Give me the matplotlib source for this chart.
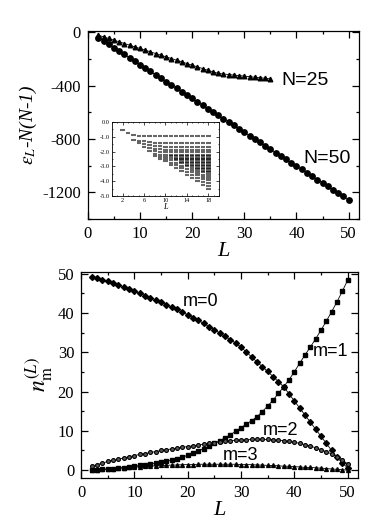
import matplotlib
matplotlib.use('Agg')
import matplotlib.pyplot as plt
from matplotlib.ticker import MultipleLocator, FormatStrFormatter
import numpy as np

plt.rcParams['axes.unicode_minus'] = False
plt.rcParams['mathtext.fontset'] = 'stix'

SERIF = 'Liberation Serif'
SANS = 'Liberation Sans'

# top panel: energies
L_n50 = list(range(2, 51))
e_n50 = [-40, -66, -91, -116, -142, -167, -192, -218, -243, -268,
         -294, -319, -344, -370, -395, -420, -445, -471, -496, -521,
         -547, -572, -597, -623, -648, -673, -698, -724, -749, -774,
         -800, -825, -850, -876, -901, -926, -951, -977, -1002, -1027,
         -1053, -1078, -1103, -1129, -1154, -1179, -1204, -1230, -1255]
L_n25 = list(range(2, 36))
e_n25 = [-22, -35, -47, -60, -72, -85, -97, -110, -122, -135,
         -147, -160, -172, -185, -197, -210, -222, -235, -247, -260,
         -272, -285, -297, -308, -313, -317, -321, -325, -329, -333,
         -337, -341, -345, -350]

# inset: spectrum levels for each L
inset_L = list(range(2, 19))
inset_levels = [
    [-0.52],
    [-0.74],
    [-0.86, -1.2],
    [-0.92, -1.26, -1.45],
    [-0.97, -1.3, -1.5, -1.7],
    [-0.97, -1.35, -1.55, -1.75, -1.95],
    [-0.97, -1.4, -1.6, -1.8, -1.95, -2.15, -2.3],
    [-0.97, -1.4, -1.65, -1.85, -2.0, -2.2, -2.35, -2.5],
    [-0.97, -1.42, -1.7, -1.9, -2.05, -2.2, -2.35, -2.5, -2.65],
    [-0.97, -1.42, -1.7, -1.9, -2.05, -2.2, -2.3, -2.45, -2.6, -2.75, -2.9],
    [-0.97, -1.42, -1.7, -1.9, -2.05, -2.2, -2.3, -2.4, -2.5, -2.6, -2.75, -2.9, -3.1],
    [-0.97, -1.42, -1.7, -1.9, -2.05, -2.2, -2.3, -2.4, -2.5, -2.6, -2.7, -2.8, -2.95, -3.1, -3.3],
    [-0.97, -1.42, -1.7, -1.9, -2.05, -2.2, -2.3, -2.4, -2.5, -2.6, -2.7, -2.8, -2.9, -3.0, -3.15, -3.35, -3.55],
    [-0.97, -1.42, -1.7, -1.9, -2.05, -2.2, -2.3, -2.4, -2.5, -2.6, -2.7, -2.8, -2.9, -3.0, -3.1, -3.25, -3.4, -3.55, -3.75],
    [-0.97, -1.42, -1.7, -1.9, -2.05, -2.2, -2.3, -2.4, -2.5, -2.6, -2.7, -2.8, -2.9, -3.0, -3.1, -3.2, -3.3, -3.45, -3.6, -3.8, -4.0],
    [-0.97, -1.42, -1.7, -1.9, -2.05, -2.2, -2.3, -2.4, -2.5, -2.6, -2.7, -2.8, -2.9, -3.0, -3.1, -3.2, -3.3, -3.4, -3.55, -3.7, -3.85, -4.05, -4.25],
    [-0.97, -1.42, -1.7, -1.9, -2.05, -2.2, -2.3, -2.4, -2.5, -2.6, -2.7, -2.8, -2.9, -3.0, -3.1, -3.2, -3.3, -3.4, -3.5, -3.65, -3.8, -3.95, -4.1, -4.3, -4.5],
]

# bottom panel: occupation numbers
L_occ = list(range(2, 51))
n_m0 = [49.2, 48.8, 48.4, 48.0, 47.6, 47.1, 46.6, 46.1, 45.5, 45.0,
        44.4, 43.9, 43.3, 42.7, 42.1, 41.5, 40.9, 40.2, 39.5, 38.8,
        38.1, 37.3, 36.5, 35.7, 34.9, 34.0, 33.2, 32.3, 31.3, 30.0,
        28.8, 27.5, 26.3, 25.1, 23.8, 22.5, 21.2, 19.4, 17.6, 15.8,
        14.0, 12.2, 10.4, 8.6, 6.8, 5.0, 3.3, 1.8, 0.6]
n_m1 = [0.0, 0.1, 0.2, 0.3, 0.4, 0.5, 0.6, 0.8, 1.0, 1.2,
        1.4, 1.6, 1.8, 2.0, 2.3, 2.6, 2.9, 3.3, 3.8, 4.3,
        4.9, 5.5, 6.1, 6.8, 7.5, 8.2, 9.0, 9.9, 10.8, 11.7,
        12.6, 13.6, 14.9, 16.3, 17.8, 19.5, 21.2, 23.0, 25.0, 27.2,
        29.3, 31.3, 33.4, 35.6, 37.9, 40.3, 42.8, 45.5, 48.3]
n_m2 = [1.0, 1.4, 1.8, 2.2, 2.5, 2.8, 3.1, 3.4, 3.7, 4.0,
        4.2, 4.5, 4.7, 5.0, 5.2, 5.4, 5.6, 5.8, 6.0, 6.2,
        6.4, 6.6, 6.8, 7.0, 7.2, 7.3, 7.5, 7.6, 7.7, 7.7,
        7.8, 7.8, 7.8, 7.8, 7.7, 7.6, 7.5, 7.3, 7.1, 6.8,
        6.5, 6.1, 5.7, 5.2, 4.7, 4.1, 3.4, 2.6, 1.6]
n_m3 = [0.0, 0.1, 0.2, 0.3, 0.4, 0.5, 0.6, 0.7, 0.8, 0.9,
        1.0, 1.0, 1.1, 1.2, 1.2, 1.3, 1.3, 1.4, 1.4, 1.4,
        1.5, 1.5, 1.5, 1.5, 1.5, 1.5, 1.5, 1.5, 1.4, 1.4,
        1.4, 1.3, 1.3, 1.2, 1.2, 1.1, 1.0, 1.0, 0.9, 0.8,
        0.7, 0.7, 0.6, 0.5, 0.4, 0.3, 0.2, 0.1, 0.0]


def style_axes(ax, size, major_len=5, minor_len=2.5, pad=5):
    ax.tick_params(which='both', direction='in', top=True, right=True,
                   labelsize=size, pad=pad, width=0.9)
    ax.tick_params(which='major', length=major_len)
    ax.tick_params(which='minor', length=minor_len)
    for s in ax.spines.values():
        s.set_linewidth(0.9)
    for lab in ax.get_xticklabels() + ax.get_yticklabels():
        lab.set_fontfamily(SERIF)


fig = plt.figure(figsize=(3.74, 5.32), dpi=100)

# ---- top panel
ax1 = fig.add_axes([0.235, 0.588, 0.725, 0.354])
ax1.plot(L_n50, e_n50, color='k', lw=0.6, marker='o', ms=3.9, mec='k', mfc='k')
ax1.plot(L_n25, e_n25, color='k', lw=0.6, marker='^', ms=3.3, mec='k', mfc='k')
ax1.set_xlim(0, 52)
ax1.set_ylim(-1400, 10)
ax1.xaxis.set_major_locator(MultipleLocator(10))
ax1.xaxis.set_minor_locator(MultipleLocator(5))
ax1.yaxis.set_major_locator(MultipleLocator(400))
ax1.yaxis.set_minor_locator(MultipleLocator(200))
style_axes(ax1, 12)
ax1.set_xlabel('L', family=SERIF, style='italic', fontsize=16, labelpad=0)
ax1.set_ylabel(r'$\epsilon_L$-N(N-1)', family=SERIF, style='italic', fontsize=14, labelpad=2)
ax1.text(37.2, -360, 'N=25', family=SANS, fontsize=14, va='center')
ax1.text(41.3, -945, 'N=50', family=SANS, fontsize=14, va='center')

# ---- inset
axin = fig.add_axes([0.2995, 0.6316, 0.286, 0.139])
for L, levels in zip(inset_L, inset_levels):
    axin.hlines(levels, L - 0.42, L + 0.42, colors='k', linewidth=1.5, alpha=0.6)
axin.set_xlim(0, 20)
axin.set_ylim(-5, 0)
axin.set_xticks([2, 6, 10, 14, 18])
axin.xaxis.set_minor_locator(MultipleLocator(1))
axin.yaxis.set_major_locator(MultipleLocator(1))
axin.yaxis.set_minor_locator(MultipleLocator(0.5))
axin.yaxis.set_major_formatter(FormatStrFormatter('%.1f'))
axin.tick_params(which='both', direction='in', top=True, right=True,
                 labelsize=4.5, pad=1.5, width=0.5)
axin.tick_params(which='major', length=2)
axin.tick_params(which='minor', length=1)
for s in axin.spines.values():
    s.set_linewidth(0.6)
for lab in axin.get_xticklabels() + axin.get_yticklabels():
    lab.set_fontfamily(SERIF)
axin.set_xlabel('L', family=SERIF, style='italic', fontsize=6, labelpad=0)

# ---- bottom panel
ax2 = fig.add_axes([0.217, 0.1015, 0.741, 0.388])
ax2.plot(L_occ, n_m0, color='k', lw=0.6, marker='D', ms=3.0, mec='k', mfc='k')
ax2.plot(L_occ, n_m1, color='k', lw=0.6, marker='s', ms=3.2, mec='k', mfc='k')
ax2.plot(L_occ, n_m2, color='k', lw=0.6, marker='o', ms=2.8, mec='k', mfc='0.35', mew=0.8)
ax2.plot(L_occ, n_m3, color='k', lw=0.6, marker='^', ms=2.8, mec='k', mfc='k')
ax2.set_xlim(0, 52)
ax2.set_ylim(-2, 50.5)
ax2.xaxis.set_major_locator(MultipleLocator(10))
ax2.xaxis.set_minor_locator(MultipleLocator(5))
ax2.yaxis.set_major_locator(MultipleLocator(10))
ax2.yaxis.set_minor_locator(MultipleLocator(5))
style_axes(ax2, 12)
ax2.set_xlabel('L', family=SERIF, style='italic', fontsize=16, labelpad=0)
ax2.set_ylabel(r'$n_{\mathrm{m}}^{(L)}$', fontsize=17, labelpad=2)
ax2.text(19.1, 42.9, 'm=0', family=SANS, fontsize=13, va='center')
ax2.text(43.5, 30.2, 'm=1', family=SANS, fontsize=13, va='center')
ax2.text(34.1, 10.0, 'm=2', family=SANS, fontsize=13, va='center')
ax2.text(26.6, 3.6, 'm=3', family=SANS, fontsize=13, va='center')

fig.savefig('out.png', dpi=100)
